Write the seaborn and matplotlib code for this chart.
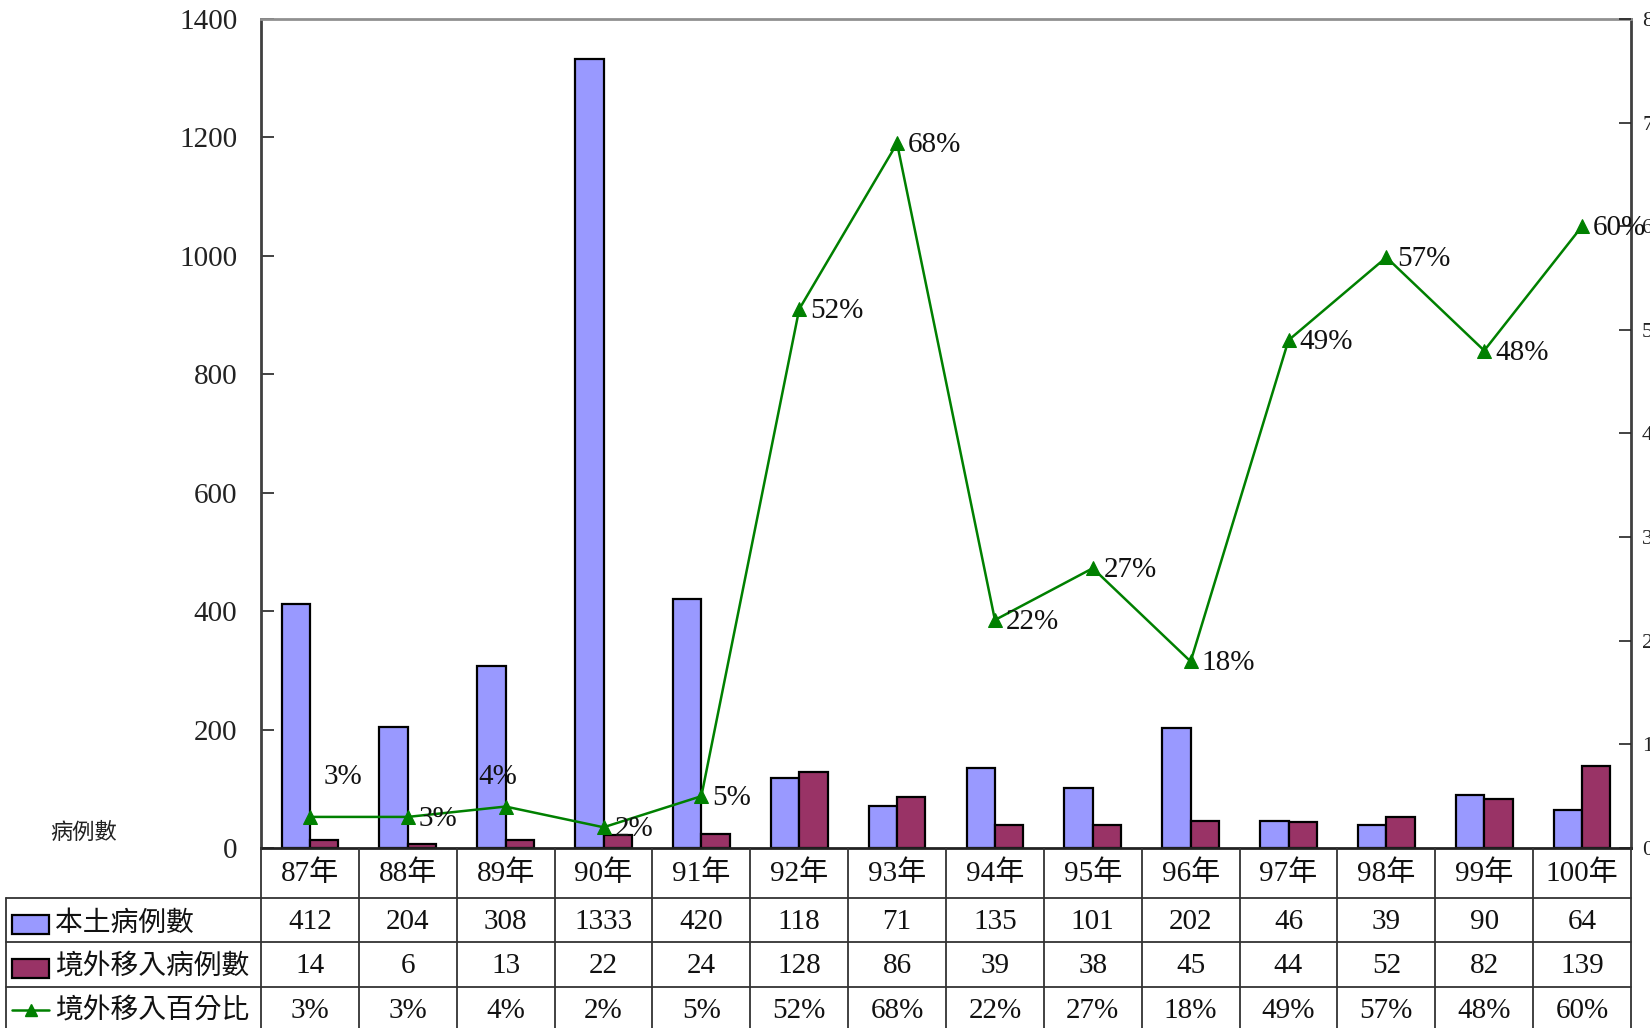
import numpy as np
import pandas as pd
import matplotlib
matplotlib.use("Agg")
import matplotlib.pyplot as plt
import matplotlib.transforms as mtransforms
from matplotlib.patches import Rectangle
from matplotlib.lines import Line2D
import seaborn as sns

# ---- data ----
years = ["87年", "88年", "89年", "90年", "91年", "92年", "93年",
         "94年", "95年", "96年", "97年", "98年", "99年", "100年"]
local_cases = [412, 204, 308, 1333, 420, 118, 71, 135, 101, 202, 46, 39, 90, 64]
imported_cases = [14, 6, 13, 22, 24, 128, 86, 39, 38, 45, 44, 52, 82, 139]
imported_pct = [3, 3, 4, 2, 5, 52, 68, 22, 27, 18, 49, 57, 48, 60]

series_local = "本土病例數"
series_imported = "境外移入病例數"
series_pct = "境外移入百分比"
left_label = "病例數"
left_ticks = [0, 200, 400, 600, 800, 1000, 1200, 1400]
right_ticks = [0, 10, 20, 30, 40, 50, 60, 70, 80]

# ---- style ----
sns.set_style("white")
plt.rcParams["font.family"] = ["Liberation Serif", "Noto Sans CJK TC"]
BLUE = "#9999FF"
MAROON = "#993366"
GREEN = "#008000"
FS = 21

W, H = 1650, 1028
fig = plt.figure(figsize=(W / 100, H / 100), dpi=100)

# plot area in pixel terms
L, R, T, B = 261, 1631, 19, 848
ax = fig.add_axes([L / W, (H - B) / H, (R - L) / W, (B - T) / H])

bars = pd.DataFrame({
    "year": years * 2,
    "cases": local_cases + imported_cases,
    "series": [series_local] * len(years) + [series_imported] * len(years),
})
sns.barplot(data=bars, x="year", y="cases", hue="series",
            palette=[BLUE, MAROON], width=0.58, dodge=True,
            edgecolor="black", linewidth=1.6, saturation=1,
            legend=False, ax=ax)

ax.set_xlim(-0.5, len(years) - 0.5)
ax.set_ylim(0, 1400)
ax.set_yticks(left_ticks)
ax.set_yticklabels([str(t) for t in left_ticks], fontsize=FS)
ax.set_xticks([])
ax.set_xlabel("")
ax.set_ylabel("")
ax.tick_params(axis="y", direction="in", length=9, width=1.2, pad=17,
               colors="#222222", labelcolor="#222222", left=True)
for side, col, lw in [("left", "#404040", 2.0), ("bottom", "#222222", 2.0),
                      ("top", "#909090", 2.0), ("right", "#404040", 2.0)]:
    ax.spines[side].set_visible(True)
    ax.spines[side].set_color(col)
    ax.spines[side].set_linewidth(lw)

# percentage line on the secondary axis
ax2 = ax.twinx()
line_df = pd.DataFrame({"pos": np.arange(len(years)), "pct": imported_pct})
sns.lineplot(data=line_df, x="pos", y="pct", color=GREEN, linewidth=1.8,
             marker="^", markersize=10, markeredgecolor=GREEN, ax=ax2)
ax2.set_ylim(0, 80)
ax2.set_xlim(-0.5, len(years) - 0.5)
ax2.set_yticks(right_ticks)
ax2.set_yticklabels([f"{t}%" for t in right_ticks], fontsize=FS - 5)
ax2.tick_params(axis="y", direction="in", length=9, width=1.2, pad=8,
                colors="#222222", right=True)
ax2.set_xlabel("")
ax2.set_ylabel("")
for s in ax2.spines.values():
    s.set_visible(False)

# value labels beside markers (pixel offsets)
label_offsets = {0: (14, 40), 2: (-27, 30), 3: (11, -2)}
for i, v in enumerate(imported_pct):
    dx, dy = label_offsets.get(i, (11, -2))
    ax2.annotate(f"{v}%", (i, v), xytext=(dx, dy), textcoords="offset pixels",
                 ha="left", va="center", fontsize=FS, color="#111111",
                 annotation_clip=False)

# ---- data table beneath the plot ----
def fy(py):
    return (H - py) / H

blend = mtransforms.blended_transform_factory(ax.transData, fig.transFigure)
grid_kw = dict(color="#333333", linewidth=1.3, clip_on=False)

# horizontal rules
for y in [898, 942, 987]:
    fig.add_artist(Line2D([6 / W, R / W], [fy(y), fy(y)], transform=fig.transFigure, **grid_kw))
# outer left border and legend column divider
fig.add_artist(Line2D([6 / W, 6 / W], [fy(898), 0], transform=fig.transFigure, **grid_kw))
fig.add_artist(Line2D([L / W, L / W], [fy(848), 0], transform=fig.transFigure, **grid_kw))
# column dividers
for k in range(1, len(years) + 1):
    x = k - 0.5
    fig.add_artist(Line2D([x, x], [fy(848), 0], transform=blend, **grid_kw))

row_centres = [874, 922, 966, 1011]
row_values = [years,
              [str(v) for v in local_cases],
              [str(v) for v in imported_cases],
              [f"{v}%" for v in imported_pct]]
for yc, vals in zip(row_centres, row_values):
    for i, s in enumerate(vals):
        fig.text(i, fy(yc), s, transform=blend, ha="center", va="center",
                 fontsize=FS, color="#111111")

# legend column of the table
fig.add_artist(Rectangle((12 / W, fy(934)), 37 / W, 19 / H, transform=fig.transFigure,
                         facecolor=BLUE, edgecolor="black", linewidth=1.6))
fig.add_artist(Rectangle((12 / W, fy(978)), 37 / W, 19 / H, transform=fig.transFigure,
                         facecolor=MAROON, edgecolor="black", linewidth=1.6))
fig.add_artist(Line2D([12 / W, 30.5 / W, 49 / W], [fy(1010)] * 3, transform=fig.transFigure,
                      color=GREEN, linewidth=1.8, marker="^", markersize=9,
                      markevery=[1], markeredgecolor=GREEN))
for yc, s in zip([924, 968, 1012], [series_local, series_imported, series_pct]):
    fig.text(55 / W, fy(yc), s, ha="left", va="center", fontsize=20, color="#111111")

fig.text(84 / W, fy(833), left_label, ha="center", va="center", fontsize=16, color="#222222")

fig.savefig("out.png", dpi=100, facecolor="white")
